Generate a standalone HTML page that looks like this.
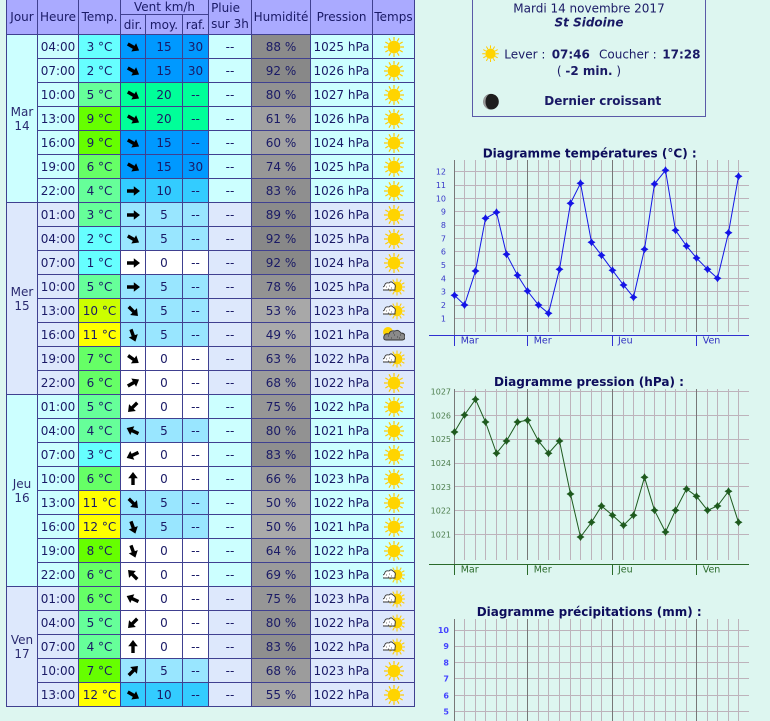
<!DOCTYPE html>
<html><head><meta charset="utf-8">
<style>
html,body{margin:0;padding:0}
body{width:770px;height:721px;overflow:hidden;background:#ddf6f0;position:relative;font-family:"DejaVu Sans","Liberation Sans",sans-serif}
.t{position:absolute;left:6px;top:0;display:grid;grid-template-columns:31px 41px 42px 25px 37px 26px 43px 59px 62px 42px;grid-template-rows:15px 20px repeat(28,24px);border-left:1px solid #404090;font-size:12px;color:#1a1a66}
.t>div{border-right:1px solid #404090;border-bottom:1px solid #404090;display:flex;align-items:center;justify-content:center;white-space:nowrap;box-sizing:border-box;overflow:hidden}
.h{background:#aaaaff}
.a{background:#ccffff}.b{background:#dde8fc}
.c0{background:#66ffff}.c3{background:#66ff99}.c5{background:#66ff66}.c7{background:#66ff00}.c9{background:#ccff00}.c11{background:#ffff00}
.w0{background:#ffffff}.w5{background:#99e6ff}.w10{background:#33ccff}.w15{background:#0099ff}.w20{background:#00ff99}
.ar{width:16px;height:16px}
.ic{width:22px;height:22px}
.j{line-height:14px;text-align:center;color:#2a2a70}
</style></head><body>
<svg width="0" height="0" style="position:absolute">
<defs>
<path id="ar" d="M-6,-1.7H0.8V-4.8L7,0L0.8,4.8V1.7H-6Z" fill="#000"/>
<g id="sun">
<path d="M6.5,0L10,0M5.63,3.25L8.66,5M3.25,5.63L5,8.66M0,6.5L0,10M-3.25,5.63L-5,8.66M-5.63,3.25L-8.66,5M-6.5,0L-10,0M-5.63,-3.25L-8.66,-5M-3.25,-5.63L-5,-8.66M0,-6.5L0,-10M3.25,-5.63L5,-8.66M5.63,-3.25L8.66,-5" stroke="#ffcc00" stroke-width="1.2"/>
<circle r="6.3" fill="#ffd400"/>
</g>
<g id="cs">
<use href="#sun" transform="translate(3,0) scale(.85)"/>
<path d="M-11,3Q-12.5,0 -9.5,-1Q-9,-5 -5,-4Q-3,-6.5 -0.5,-3.5Q2,-2.5 1,1L1,3Z" fill="#fff" stroke="#333" stroke-width="0.9"/>
<path d="M-8,0h1M-5,-1h1M-3,1h1M-6,2h1" stroke="#777" stroke-width="1"/>
</g>
<g id="cl">
<circle cx="-6" cy="-3" r="5" fill="#ffd400"/>
<path d="M-8,5Q-11,5 -10,1Q-9,-2 -5,-1Q-4,-5 1,-4Q4,-6 7,-2Q11,-2 11,2Q11,5 8,5Z" fill="#8a8a8a" stroke="#333" stroke-width="0.9"/>
<path d="M-6,1h1M-3,3h1M0,0h1M3,2h1M6,0h1M-1,-2h1M5,3h1" stroke="#444" stroke-width="1"/>
</g>
<path id="mk" d="M0,-4L1.6,-1.6L4,0L1.6,1.6L0,4L-1.6,1.6L-4,0L-1.6,-1.6Z"/>
</defs>
</svg>

<div class="t">
<div class="h" style="grid-row:1/3;grid-column:1">Jour</div>
<div class="h" style="grid-row:1/3;grid-column:2">Heure</div>
<div class="h" style="grid-row:1/3;grid-column:3">Temp.</div>
<div class="h" style="grid-row:1;grid-column:4/7">Vent km/h</div>
<div class="h" style="grid-row:1/3;grid-column:7;flex-direction:column;line-height:16px;padding-bottom:2px">Pluie<br>sur 3h</div>
<div class="h" style="grid-row:1/3;grid-column:8">Humidité</div>
<div class="h" style="grid-row:1/3;grid-column:9">Pression</div>
<div class="h" style="grid-row:1/3;grid-column:10">Temps</div>
<div class="h" style="grid-row:2;grid-column:4">dir.</div>
<div class="h" style="grid-row:2;grid-column:5">moy.</div>
<div class="h" style="grid-row:2;grid-column:6">raf.</div>

<div class="a j" style="grid-row:3/span 7;grid-column:1">Mar<br>14</div>
<div class="b j" style="grid-row:10/span 8;grid-column:1">Mer<br>15</div>
<div class="a j" style="grid-row:18/span 8;grid-column:1">Jeu<br>16</div>
<div class="b j" style="grid-row:26/span 5;grid-column:1">Ven<br>17</div>

<!-- Mar -->
<div class="a">04:00</div><div class="c0">3 °C</div><div class="w15"><svg class="ar" viewBox="-8 -8 16 16"><use href="#ar" transform="rotate(30)"/></svg></div><div class="w15">15</div><div class="w15">30</div><div class="a">--</div><div style="background:#8b8b8b">88 %</div><div class="a">1025 hPa</div><div class="a"><svg class="ic" viewBox="-11 -11 22 22"><use href="#sun"/></svg></div>
<div class="a">07:00</div><div class="c0">2 °C</div><div class="w15"><svg class="ar" viewBox="-8 -8 16 16"><use href="#ar" transform="rotate(30)"/></svg></div><div class="w15">15</div><div class="w15">30</div><div class="a">--</div><div style="background:#888888">92 %</div><div class="a">1026 hPa</div><div class="a"><svg class="ic" viewBox="-11 -11 22 22"><use href="#sun"/></svg></div>
<div class="a">10:00</div><div class="c3">5 °C</div><div class="w20"><svg class="ar" viewBox="-8 -8 16 16"><use href="#ar" transform="rotate(30)"/></svg></div><div class="w20">20</div><div class="w20">--</div><div class="a">--</div><div style="background:#929292">80 %</div><div class="a">1027 hPa</div><div class="a"><svg class="ic" viewBox="-11 -11 22 22"><use href="#sun"/></svg></div>
<div class="a">13:00</div><div class="c7">9 °C</div><div class="w20"><svg class="ar" viewBox="-8 -8 16 16"><use href="#ar" transform="rotate(30)"/></svg></div><div class="w20">20</div><div class="w20">--</div><div class="a">--</div><div style="background:#a1a1a1">61 %</div><div class="a">1026 hPa</div><div class="a"><svg class="ic" viewBox="-11 -11 22 22"><use href="#sun"/></svg></div>
<div class="a">16:00</div><div class="c7">9 °C</div><div class="w15"><svg class="ar" viewBox="-8 -8 16 16"><use href="#ar" transform="rotate(30)"/></svg></div><div class="w15">15</div><div class="w15">--</div><div class="a">--</div><div style="background:#a2a2a2">60 %</div><div class="a">1024 hPa</div><div class="a"><svg class="ic" viewBox="-11 -11 22 22"><use href="#sun"/></svg></div>
<div class="a">19:00</div><div class="c5">6 °C</div><div class="w15"><svg class="ar" viewBox="-8 -8 16 16"><use href="#ar" transform="rotate(30)"/></svg></div><div class="w15">15</div><div class="w15">30</div><div class="a">--</div><div style="background:#979797">74 %</div><div class="a">1025 hPa</div><div class="a"><svg class="ic" viewBox="-11 -11 22 22"><use href="#sun"/></svg></div>
<div class="a">22:00</div><div class="c3">4 °C</div><div class="w10"><svg class="ar" viewBox="-8 -8 16 16"><use href="#ar" transform="rotate(0)"/></svg></div><div class="w10">10</div><div class="w10">--</div><div class="a">--</div><div style="background:#8f8f8f">83 %</div><div class="a">1026 hPa</div><div class="a"><svg class="ic" viewBox="-11 -11 22 22"><use href="#sun"/></svg></div>

<!-- Mer -->
<div class="b">01:00</div><div class="c3">3 °C</div><div class="w5"><svg class="ar" viewBox="-8 -8 16 16"><use href="#ar" transform="rotate(0)"/></svg></div><div class="w5">5</div><div class="w5">--</div><div class="b">--</div><div style="background:#8b8b8b">89 %</div><div class="b">1026 hPa</div><div class="b"><svg class="ic" viewBox="-11 -11 22 22"><use href="#sun"/></svg></div>
<div class="b">04:00</div><div class="c0">2 °C</div><div class="w5"><svg class="ar" viewBox="-8 -8 16 16"><use href="#ar" transform="rotate(30)"/></svg></div><div class="w5">5</div><div class="w5">--</div><div class="b">--</div><div style="background:#888888">92 %</div><div class="b">1025 hPa</div><div class="b"><svg class="ic" viewBox="-11 -11 22 22"><use href="#sun"/></svg></div>
<div class="b">07:00</div><div class="c0">1 °C</div><div class="w0"><svg class="ar" viewBox="-8 -8 16 16"><use href="#ar" transform="rotate(0)"/></svg></div><div class="w0">0</div><div class="w0">--</div><div class="b">--</div><div style="background:#888888">92 %</div><div class="b">1024 hPa</div><div class="b"><svg class="ic" viewBox="-11 -11 22 22"><use href="#sun"/></svg></div>
<div class="b">10:00</div><div class="c3">5 °C</div><div class="w5"><svg class="ar" viewBox="-8 -8 16 16"><use href="#ar" transform="rotate(0)"/></svg></div><div class="w5">5</div><div class="w5">--</div><div class="b">--</div><div style="background:#939393">78 %</div><div class="b">1025 hPa</div><div class="b"><svg class="ic" viewBox="-11 -11 22 22"><use href="#cs"/></svg></div>
<div class="b">13:00</div><div class="c9">10 °C</div><div class="w5"><svg class="ar" viewBox="-8 -8 16 16"><use href="#ar" transform="rotate(45)"/></svg></div><div class="w5">5</div><div class="w5">--</div><div class="b">--</div><div style="background:#a8a8a8">53 %</div><div class="b">1023 hPa</div><div class="b"><svg class="ic" viewBox="-11 -11 22 22"><use href="#cs"/></svg></div>
<div class="b">16:00</div><div class="c11">11 °C</div><div class="w5"><svg class="ar" viewBox="-8 -8 16 16"><use href="#ar" transform="rotate(70)"/></svg></div><div class="w5">5</div><div class="w5">--</div><div class="b">--</div><div style="background:#ababab">49 %</div><div class="b">1021 hPa</div><div class="b"><svg class="ic" viewBox="-11 -11 22 22"><use href="#cl"/></svg></div>
<div class="b">19:00</div><div class="c5">7 °C</div><div class="w0"><svg class="ar" viewBox="-8 -8 16 16"><use href="#ar" transform="rotate(35)"/></svg></div><div class="w0">0</div><div class="w0">--</div><div class="b">--</div><div style="background:#a0a0a0">63 %</div><div class="b">1022 hPa</div><div class="b"><svg class="ic" viewBox="-11 -11 22 22"><use href="#cs"/></svg></div>
<div class="b">22:00</div><div class="c5">6 °C</div><div class="w0"><svg class="ar" viewBox="-8 -8 16 16"><use href="#ar" transform="rotate(-30)"/></svg></div><div class="w0">0</div><div class="w0">--</div><div class="b">--</div><div style="background:#9c9c9c">68 %</div><div class="b">1022 hPa</div><div class="b"><svg class="ic" viewBox="-11 -11 22 22"><use href="#sun"/></svg></div>

<!-- Jeu -->
<div class="a">01:00</div><div class="c3">5 °C</div><div class="w0"><svg class="ar" viewBox="-8 -8 16 16"><use href="#ar" transform="rotate(135)"/></svg></div><div class="w0">0</div><div class="w0">--</div><div class="a">--</div><div style="background:#969696">75 %</div><div class="a">1022 hPa</div><div class="a"><svg class="ic" viewBox="-11 -11 22 22"><use href="#sun"/></svg></div>
<div class="a">04:00</div><div class="c3">4 °C</div><div class="w5"><svg class="ar" viewBox="-8 -8 16 16"><use href="#ar" transform="rotate(205)"/></svg></div><div class="w5">5</div><div class="w5">--</div><div class="a">--</div><div style="background:#929292">80 %</div><div class="a">1021 hPa</div><div class="a"><svg class="ic" viewBox="-11 -11 22 22"><use href="#sun"/></svg></div>
<div class="a">07:00</div><div class="c0">3 °C</div><div class="w0"><svg class="ar" viewBox="-8 -8 16 16"><use href="#ar" transform="rotate(155)"/></svg></div><div class="w0">0</div><div class="w0">--</div><div class="a">--</div><div style="background:#8f8f8f">83 %</div><div class="a">1022 hPa</div><div class="a"><svg class="ic" viewBox="-11 -11 22 22"><use href="#sun"/></svg></div>
<div class="a">10:00</div><div class="c5">6 °C</div><div class="w0"><svg class="ar" viewBox="-8 -8 16 16"><use href="#ar" transform="rotate(-90)"/></svg></div><div class="w0">0</div><div class="w0">--</div><div class="a">--</div><div style="background:#9d9d9d">66 %</div><div class="a">1023 hPa</div><div class="a"><svg class="ic" viewBox="-11 -11 22 22"><use href="#sun"/></svg></div>
<div class="a">13:00</div><div class="c11">11 °C</div><div class="w5"><svg class="ar" viewBox="-8 -8 16 16"><use href="#ar" transform="rotate(45)"/></svg></div><div class="w5">5</div><div class="w5">--</div><div class="a">--</div><div style="background:#aaaaaa">50 %</div><div class="a">1022 hPa</div><div class="a"><svg class="ic" viewBox="-11 -11 22 22"><use href="#sun"/></svg></div>
<div class="a">16:00</div><div class="c11">12 °C</div><div class="w5"><svg class="ar" viewBox="-8 -8 16 16"><use href="#ar" transform="rotate(70)"/></svg></div><div class="w5">5</div><div class="w5">--</div><div class="a">--</div><div style="background:#aaaaaa">50 %</div><div class="a">1021 hPa</div><div class="a"><svg class="ic" viewBox="-11 -11 22 22"><use href="#sun"/></svg></div>
<div class="a">19:00</div><div class="c7">8 °C</div><div class="w0"><svg class="ar" viewBox="-8 -8 16 16"><use href="#ar" transform="rotate(70)"/></svg></div><div class="w0">0</div><div class="w0">--</div><div class="a">--</div><div style="background:#9f9f9f">64 %</div><div class="a">1022 hPa</div><div class="a"><svg class="ic" viewBox="-11 -11 22 22"><use href="#sun"/></svg></div>
<div class="a">22:00</div><div class="c5">6 °C</div><div class="w0"><svg class="ar" viewBox="-8 -8 16 16"><use href="#ar" transform="rotate(225)"/></svg></div><div class="w0">0</div><div class="w0">--</div><div class="a">--</div><div style="background:#9b9b9b">69 %</div><div class="a">1023 hPa</div><div class="a"><svg class="ic" viewBox="-11 -11 22 22"><use href="#cs"/></svg></div>

<!-- Ven -->
<div class="b">01:00</div><div class="c5">6 °C</div><div class="w0"><svg class="ar" viewBox="-8 -8 16 16"><use href="#ar" transform="rotate(205)"/></svg></div><div class="w0">0</div><div class="w0">--</div><div class="b">--</div><div style="background:#969696">75 %</div><div class="b">1023 hPa</div><div class="b"><svg class="ic" viewBox="-11 -11 22 22"><use href="#cs"/></svg></div>
<div class="b">04:00</div><div class="c3">5 °C</div><div class="w0"><svg class="ar" viewBox="-8 -8 16 16"><use href="#ar" transform="rotate(135)"/></svg></div><div class="w0">0</div><div class="w0">--</div><div class="b">--</div><div style="background:#929292">80 %</div><div class="b">1022 hPa</div><div class="b"><svg class="ic" viewBox="-11 -11 22 22"><use href="#cs"/></svg></div>
<div class="b">07:00</div><div class="c3">4 °C</div><div class="w0"><svg class="ar" viewBox="-8 -8 16 16"><use href="#ar" transform="rotate(-90)"/></svg></div><div class="w0">0</div><div class="w0">--</div><div class="b">--</div><div style="background:#8f8f8f">83 %</div><div class="b">1022 hPa</div><div class="b"><svg class="ic" viewBox="-11 -11 22 22"><use href="#cs"/></svg></div>
<div class="b">10:00</div><div class="c7">7 °C</div><div class="w5"><svg class="ar" viewBox="-8 -8 16 16"><use href="#ar" transform="rotate(-45)"/></svg></div><div class="w5">5</div><div class="w5">--</div><div class="b">--</div><div style="background:#9c9c9c">68 %</div><div class="b">1023 hPa</div><div class="b"><svg class="ic" viewBox="-11 -11 22 22"><use href="#sun"/></svg></div>
<div class="b">13:00</div><div class="c11">12 °C</div><div class="w10"><svg class="ar" viewBox="-8 -8 16 16"><use href="#ar" transform="rotate(30)"/></svg></div><div class="w10">10</div><div class="w10">--</div><div class="b">--</div><div style="background:#a6a6a6">55 %</div><div class="b">1022 hPa</div><div class="b"><svg class="ic" viewBox="-11 -11 22 22"><use href="#sun"/></svg></div>
</div>

<svg width="770" height="721" viewBox="0 0 770 721" style="position:absolute;left:0;top:0" font-family="DejaVu Sans, Liberation Sans, sans-serif">
<!-- info box -->
<rect x="472.5" y="-5" width="233" height="121.5" fill="none" stroke="#5a5aa8" stroke-width="1"/>
<g fill="#1a1a66" font-size="12">
<text x="589" y="12.7" text-anchor="middle">Mardi 14 novembre 2017</text>
<text x="589" y="26.7" text-anchor="middle" font-weight="bold" font-style="italic">St Sidoine</text>
<text x="504.3" y="58.3">Lever :</text>
<text x="551.7" y="58.3" font-weight="bold">07:46</text>
<text x="599" y="58.3">Coucher :</text>
<text x="662.3" y="58.3" font-weight="bold">17:28</text>
<text x="589" y="75" text-anchor="middle">( <tspan font-weight="bold">-2 min.</tspan> )</text>
<text x="544.3" y="105" font-weight="bold">Dernier croissant</text>
</g>
<use href="#sun" transform="translate(490.5,53.7) scale(0.83)"/>
<circle cx="491" cy="101.7" r="7.8" fill="#1e1e1e"/>
<path d="M491,93.9A7.8,7.8 0 0 0 491,109.5A5.5,7.8 0 0 1 491,93.9Z" fill="#9a9a9a"/>

<!-- titles -->
<g fill="#0d0d5c" font-weight="bold" font-size="12.5">
<text x="482.7" y="157.3" textLength="214" lengthAdjust="spacingAndGlyphs">Diagramme températures (°C) :</text>
<text x="494" y="386" textLength="190" lengthAdjust="spacingAndGlyphs">Diagramme pression (hPa) :</text>
<text x="476.7" y="616" textLength="225" lengthAdjust="spacingAndGlyphs">Diagramme précipitations (mm) :</text>
</g>

<!-- TEMP CHART -->
<g shape-rendering="crispEdges" stroke-width="1" fill="none">
<path stroke="#bdb3bb" d="M464.5,160V332M475.5,160V332M485.5,160V332M496.5,160V332M506.5,160V332M517.5,160V332M538.5,160V332M548.5,160V332M559.5,160V332M570.5,160V332M580.5,160V332M591.5,160V332M601.5,160V332M623.5,160V332M633.5,160V332M644.5,160V332M654.5,160V332M665.5,160V332M675.5,160V332M686.5,160V332M707.5,160V332M717.5,160V332M728.5,160V332M738.5,160V332
M454,318.5H749M454,305.5H749M454,291.5H749M454,278.5H749M454,265.5H749M454,251.5H749M454,238.5H749M454,225.5H749M454,211.5H749M454,198.5H749M454,185.5H749M454,171.5H749"/>
<path stroke="#777" d="M527.5,160V332M612.5,160V332M696.5,160V332M454.5,160V335"/>
<path stroke="#3030d0" d="M429,335.5H749M454.5,335V346M527.5,335V346M612.5,335V346M696.5,335V346"/>
</g>
<g fill="#3838c8" font-size="8" text-anchor="end">
<text x="446" y="321.5">1</text><text x="446" y="308">2</text><text x="446" y="294.7">3</text><text x="446" y="281.4">4</text><text x="446" y="268">5</text><text x="446" y="254.7">6</text><text x="446" y="241.4">7</text><text x="446" y="228">8</text><text x="446" y="214.7">9</text><text x="446" y="201.4">10</text><text x="446" y="188">11</text><text x="446" y="174.7">12</text>
</g>
<g fill="#3030c0" font-size="9.5">
<text x="460.7" y="343.7">Mar</text><text x="533.7" y="343.7">Mer</text><text x="618" y="343.7">Jeu</text><text x="702.7" y="343.7">Ven</text>
</g>
<polyline fill="none" stroke="#1414e6" stroke-width="1" points="454.5,295.3 464.5,305 475.5,271 485.5,218.3 496.5,212.3 506.5,254.3 517.5,275.3 527.5,291 538.5,305 548.5,313.3 559.5,269.3 570.5,203.3 580.5,183.3 591.5,242.3 601.5,255.3 612.5,270.3 623.5,285 633.5,297.3 644.5,249.3 654.5,184 665.5,170.3 675.5,230.3 686.5,246 696.5,258 707.5,269.3 717.5,278.3 728.5,232.7 738.5,176.3"/>
<g fill="#1414e6">
<use href="#mk" x="454.5" y="295.3"/><use href="#mk" x="464.5" y="305"/><use href="#mk" x="475.5" y="271"/><use href="#mk" x="485.5" y="218.3"/><use href="#mk" x="496.5" y="212.3"/><use href="#mk" x="506.5" y="254.3"/><use href="#mk" x="517.5" y="275.3"/><use href="#mk" x="527.5" y="291"/><use href="#mk" x="538.5" y="305"/><use href="#mk" x="548.5" y="313.3"/><use href="#mk" x="559.5" y="269.3"/><use href="#mk" x="570.5" y="203.3"/><use href="#mk" x="580.5" y="183.3"/><use href="#mk" x="591.5" y="242.3"/><use href="#mk" x="601.5" y="255.3"/><use href="#mk" x="612.5" y="270.3"/><use href="#mk" x="623.5" y="285"/><use href="#mk" x="633.5" y="297.3"/><use href="#mk" x="644.5" y="249.3"/><use href="#mk" x="654.5" y="184"/><use href="#mk" x="665.5" y="170.3"/><use href="#mk" x="675.5" y="230.3"/><use href="#mk" x="686.5" y="246"/><use href="#mk" x="696.5" y="258"/><use href="#mk" x="707.5" y="269.3"/><use href="#mk" x="717.5" y="278.3"/><use href="#mk" x="728.5" y="232.7"/><use href="#mk" x="738.5" y="176.3"/>
</g>

<!-- PRESSURE CHART -->
<g shape-rendering="crispEdges" stroke-width="1" fill="none">
<path stroke="#bdb3bb" d="M464.5,389V560M475.5,389V560M485.5,389V560M496.5,389V560M506.5,389V560M517.5,389V560M538.5,389V560M548.5,389V560M559.5,389V560M570.5,389V560M580.5,389V560M591.5,389V560M601.5,389V560M623.5,389V560M633.5,389V560M644.5,389V560M654.5,389V560M665.5,389V560M675.5,389V560M686.5,389V560M707.5,389V560M717.5,389V560M728.5,389V560M738.5,389V560
M454,391.5H749M454,415.5H749M454,439.5H749M454,463.5H749M454,486.5H749M454,510.5H749M454,534.5H749"/>
<path stroke="#777" d="M527.5,389V560M612.5,389V560M696.5,389V560M454.5,389V564"/>
<path stroke="#2a6a2a" d="M429,564.5H749M454.5,564V575M527.5,564V575M612.5,564V575M696.5,564V575"/>
</g>
<g fill="#4d7d4d" font-size="8" text-anchor="end">
<text x="451" y="394.7">1027</text><text x="451" y="418.5">1026</text><text x="451" y="442.2">1025</text><text x="451" y="466">1024</text><text x="451" y="489.8">1023</text><text x="451" y="513.6">1022</text><text x="451" y="537.4">1021</text>
</g>
<g fill="#2a6a2a" font-size="9.5">
<text x="460.7" y="572.7">Mar</text><text x="533.7" y="572.7">Mer</text><text x="618" y="572.7">Jeu</text><text x="702.7" y="572.7">Ven</text>
</g>
<polyline fill="none" stroke="#1e5a1e" stroke-width="1" points="454.5,432 464.5,415 475.5,399.3 485.5,422 496.5,453.3 506.5,441 517.5,422 527.5,420.3 538.5,441 548.5,453.3 559.5,441 570.5,494 580.5,537 591.5,522.3 601.5,506 612.5,515.3 623.5,525.3 633.5,515.3 644.5,477.3 654.5,510.3 665.5,532 675.5,510.3 686.5,489 696.5,496.3 707.5,510.3 717.5,506 728.5,491.3 738.5,522.3"/>
<g fill="#1e5a1e">
<use href="#mk" x="454.5" y="432"/><use href="#mk" x="464.5" y="415"/><use href="#mk" x="475.5" y="399.3"/><use href="#mk" x="485.5" y="422"/><use href="#mk" x="496.5" y="453.3"/><use href="#mk" x="506.5" y="441"/><use href="#mk" x="517.5" y="422"/><use href="#mk" x="527.5" y="420.3"/><use href="#mk" x="538.5" y="441"/><use href="#mk" x="548.5" y="453.3"/><use href="#mk" x="559.5" y="441"/><use href="#mk" x="570.5" y="494"/><use href="#mk" x="580.5" y="537"/><use href="#mk" x="591.5" y="522.3"/><use href="#mk" x="601.5" y="506"/><use href="#mk" x="612.5" y="515.3"/><use href="#mk" x="623.5" y="525.3"/><use href="#mk" x="633.5" y="515.3"/><use href="#mk" x="644.5" y="477.3"/><use href="#mk" x="654.5" y="510.3"/><use href="#mk" x="665.5" y="532"/><use href="#mk" x="675.5" y="510.3"/><use href="#mk" x="686.5" y="489"/><use href="#mk" x="696.5" y="496.3"/><use href="#mk" x="707.5" y="510.3"/><use href="#mk" x="717.5" y="506"/><use href="#mk" x="728.5" y="491.3"/><use href="#mk" x="738.5" y="522.3"/>
</g>

<!-- PRECIP CHART -->
<g shape-rendering="crispEdges" stroke-width="1" fill="none">
<path stroke="#bdb3bb" d="M464.5,619V721M475.5,619V721M485.5,619V721M496.5,619V721M506.5,619V721M517.5,619V721M538.5,619V721M548.5,619V721M559.5,619V721M570.5,619V721M580.5,619V721M591.5,619V721M601.5,619V721M623.5,619V721M633.5,619V721M644.5,619V721M654.5,619V721M665.5,619V721M675.5,619V721M686.5,619V721M707.5,619V721M717.5,619V721M728.5,619V721M738.5,619V721
M454,630.5H749M454,646.5H749M454,662.5H749M454,678.5H749M454,695.5H749M454,711.5H749"/>
<path stroke="#777" d="M527.5,619V721M612.5,619V721M696.5,619V721M454.5,619V721"/>
</g>
<g fill="#4444ff" font-size="8" font-weight="bold" text-anchor="end">
<text x="449" y="633">10</text><text x="449" y="649">9</text><text x="449" y="665.5">8</text><text x="449" y="681.7">7</text><text x="449" y="698.5">6</text><text x="449" y="714.3">5</text>
</g>
</svg>
</body></html>
